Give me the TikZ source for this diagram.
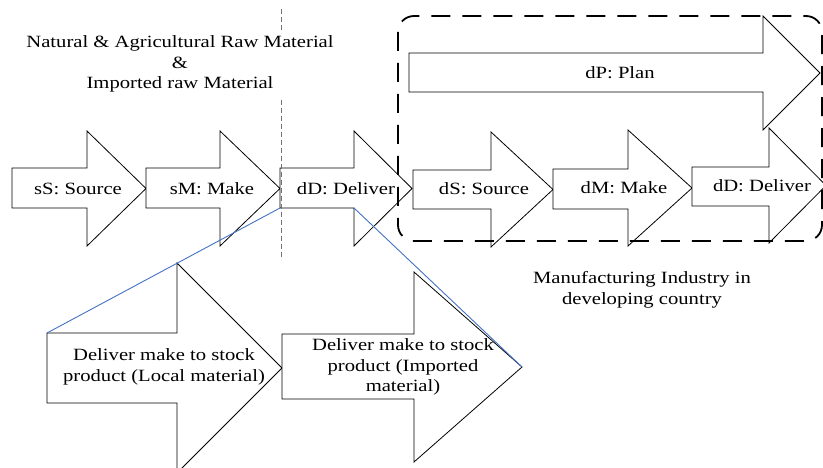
\documentclass[tikz,border=0pt]{standalone}
\usepackage{fontspec}
\setmainfont{Liberation Serif}[FakeStretch=1.2]
\begin{document}
% Block arrow: name, left x, body top, body bottom, shaft end x, head top, head bottom, tip x
\newcommand\blockarrow[8]{%
  \coordinate (#1-tl) at (#2,#3);
  \coordinate (#1-bl) at (#2,#4);
  \coordinate (#1-st) at (#5,#3);
  \coordinate (#1-sb) at (#5,#4);
  \coordinate (#1-ht) at (#5,#6);
  \coordinate (#1-hb) at (#5,#7);
  \coordinate (#1-tip) at (#8,{(#6+#7)/2});
  \draw[arrowbox] (#1-tl) -- (#1-st) -- (#1-ht) -- (#1-tip) -- (#1-hb) -- (#1-sb) -- (#1-bl) -- cycle;
}
\begin{tikzpicture}[x=1pt,y=-1pt,
  arrowbox/.style={draw=black,line width=0.8pt,fill=white,line join=miter},
  label/.style={font=\fontsize{17.2}{20.5}\selectfont,text=black,inner sep=0pt,align=center},
  divider/.style={draw=black!55,line width=1pt,dash pattern=on 5pt off 3pt},
  zoomline/.style={draw={rgb,255:red,68;green,114;blue,196},line width=0.9pt},
  region/.style={draw=black,line width=1.8pt,dash pattern=on 19pt off 12pt,rounded corners=16pt}]
\useasboundingbox (0,0) rectangle (823,468);
\fill[white] (0,0) rectangle (823,468);

% supplier side chain
\blockarrow{sS}{12}{168}{208}{87}{131}{246}{146}
\blockarrow{sM}{146}{168}{208}{220}{131}{246}{280}
\blockarrow{dD}{280}{168}{208}{354}{131}{246}{412}

% manufacturer chain
\blockarrow{dP}{409}{53}{92}{763}{16}{130}{820}
\blockarrow{mS}{413}{170}{209}{491}{132}{247}{553}
\blockarrow{mM}{553}{169}{209}{628}{130}{246}{692}
\blockarrow{mD}{692}{167}{206}{769}{128}{243}{826}

% detail of the delivery step
\blockarrow{bL}{47}{333}{403}{177}{263}{473}{282}
\blockarrow{bI}{282}{334}{399}{414}{272}{462}{522}

\node[label] (tsS) at (78,189) {sS: Source};
\node[label] (tsM) at (212,189) {sM: Make};
\node[label] (tdD) at (346,189) {dD: Deliver};
\node[label] (tdP) at (620,73) {dP: Plan};
\node[label] (tmS) at (484,189) {dS: Source};
\node[label] (tmM) at (624,188) {dM: Make};
\node[label] (tmD) at (762,186) {dD: Deliver};
\node[label] (tbL) at (164,367) {Deliver make to stock\\product (Local material)};
\node[label] (tbI) at (403,367) {Deliver make to stock\\product (Imported\\material)};

\node[label] (raw) at (180,64) {Natural \& Agricultural Raw Material\\\&\\Imported raw Material};
\node[label] (mfg) at (642,290) {Manufacturing Industry in\\developing country};

% boundary between raw material and manufacturing
\coordinate (d1) at (281,9);
\coordinate (d2) at (281,33);
\coordinate (d3) at (281,100);
\coordinate (d4) at (281,260);
\draw[divider] (d1) -- (d2);
\draw[divider] (d3) -- (d4);

% manufacturing region
\coordinate (rA) at (398,16);
\coordinate (rB) at (822,241);
\draw[region] (rA) rectangle (rB);

% zoom lines to the delivery detail
\draw[zoomline] (dD-bl) -- (bL-tl);
\draw[zoomline] (dD-sb) -- (bI-tip);
\end{tikzpicture}
\end{document}
